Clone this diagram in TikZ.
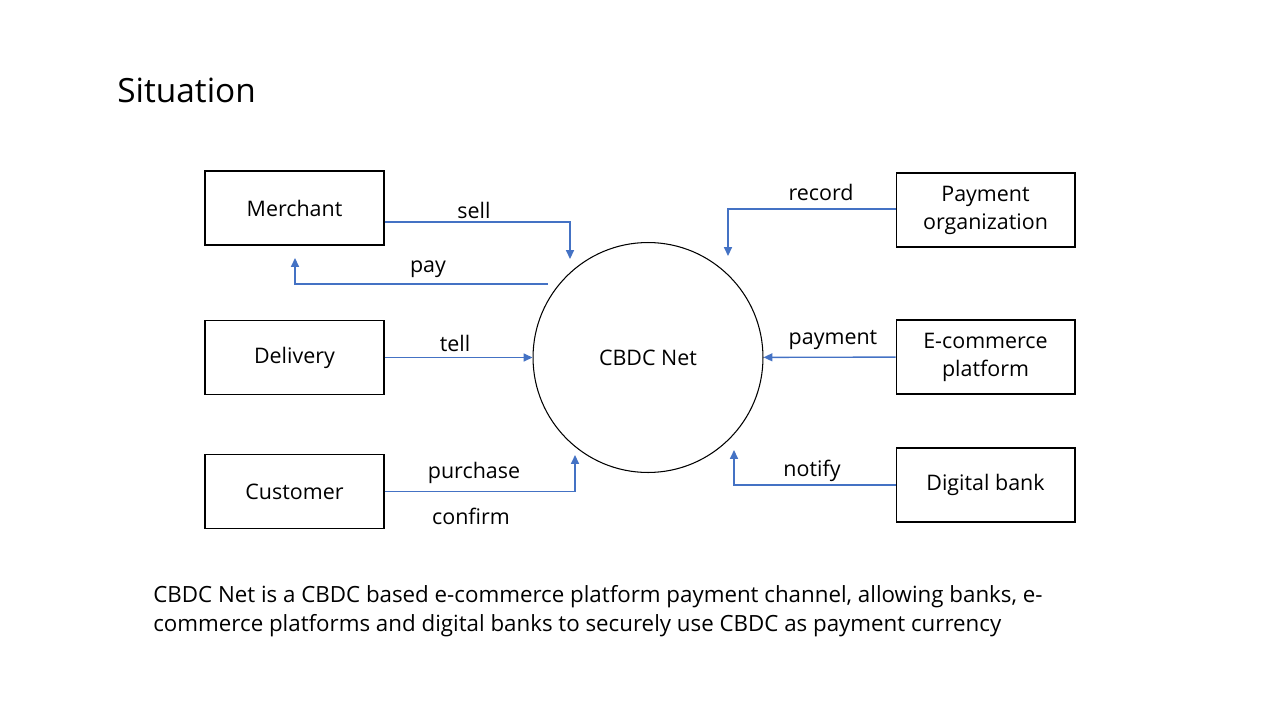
\documentclass[tikz,border=0pt]{standalone}
\usepackage{fontspec}
\setmainfont{Open Sans}
\usetikzlibrary{arrows.meta}
\definecolor{linkblue}{HTML}{4472C4}
\tikzset{
  party/.style={draw, line width=0.6pt, minimum width=3.58cm, minimum height=1.48cm, inner sep=0pt, align=center, font=\fontsize{12.2}{16}\selectfont},
  flow/.style={draw=linkblue, line width=0.8pt, -{Triangle[width=4.5pt,length=5pt]}},
  lbl/.style={font=\fontsize{12.2}{14}\selectfont, inner sep=0pt}
}
\begin{document}
\begin{tikzpicture}[x=0.02cm, y=-0.02cm]
      \useasboundingbox (0,0) rectangle (1280,720);
      % Title
      \node[anchor=west, inner sep=0pt, font=\fontsize{19}{22}\selectfont] at (117, 90) (title) {Situation};

      % Nodes
      \node[party] at (294.5, 208) (merchant) {Merchant};
      \node[party] at (294.5, 357.5) (delivery) {Delivery};
      \node[party] at (294.5, 491.5) (customer) {Customer};
      \node[party] at (985.5, 210) (payorg) {Payment\\organization};
      \node[party] at (985.5, 357) (ecom) {E-commerce\\platform};
      \node[party] at (985.5, 485) (dbank) {Digital bank};
      \node[circle, draw, line width=0.6pt, minimum size=4.6cm, inner sep=0pt, font=\fontsize{12.2}{15}\selectfont] at (648, 357.5) (net) {CBDC Net};

      % Free ends
      \coordinate (sellend) at (570, 259);
      \coordinate (paystart) at (548, 284);
      \coordinate (payend) at (295, 258);
      \coordinate (purchend) at (575, 455);
      \coordinate (recordend) at (728, 256);
      \coordinate (notifyend) at (734, 450);

      % Connectors
      \draw[flow] ([yshift=-0.28cm]merchant.east) -| (sellend);
      \draw[flow] (paystart) -| (payend);
      \draw[flow] (delivery) -- (net);
      \draw[flow] (customer.east) -| (purchend);
      \draw[flow] ([yshift=0.02cm]payorg.west) -| (recordend);
      \draw[flow] (ecom) -- (net);
      \draw[flow] (dbank.west) -| (notifyend);

      % Labels
      \node[lbl] at (474, 210) (sell) {sell};
      \node[lbl] at (428, 269) (pay) {pay};
      \node[lbl] at (455, 343) (tell) {tell};
      \node[lbl] at (474, 473) (purchase) {purchase};
      \node[lbl] at (471, 516) (confirm) {confirm};
      \node[lbl] at (821, 192) (record) {record};
      \node[lbl] at (833, 340) (payment) {payment};
      \node[lbl] at (812, 471) (notify) {notify};

      % Caption
      \node[anchor=north west, inner sep=0pt, align=left, font=\fontsize{12.7}{16.4}\selectfont] at (153, 585) (caption)
        {CBDC Net is a CBDC based e-commerce platform payment channel, allowing banks, e-\\commerce platforms and digital banks to securely use CBDC as payment currency};
    \end{tikzpicture}
\end{document}
